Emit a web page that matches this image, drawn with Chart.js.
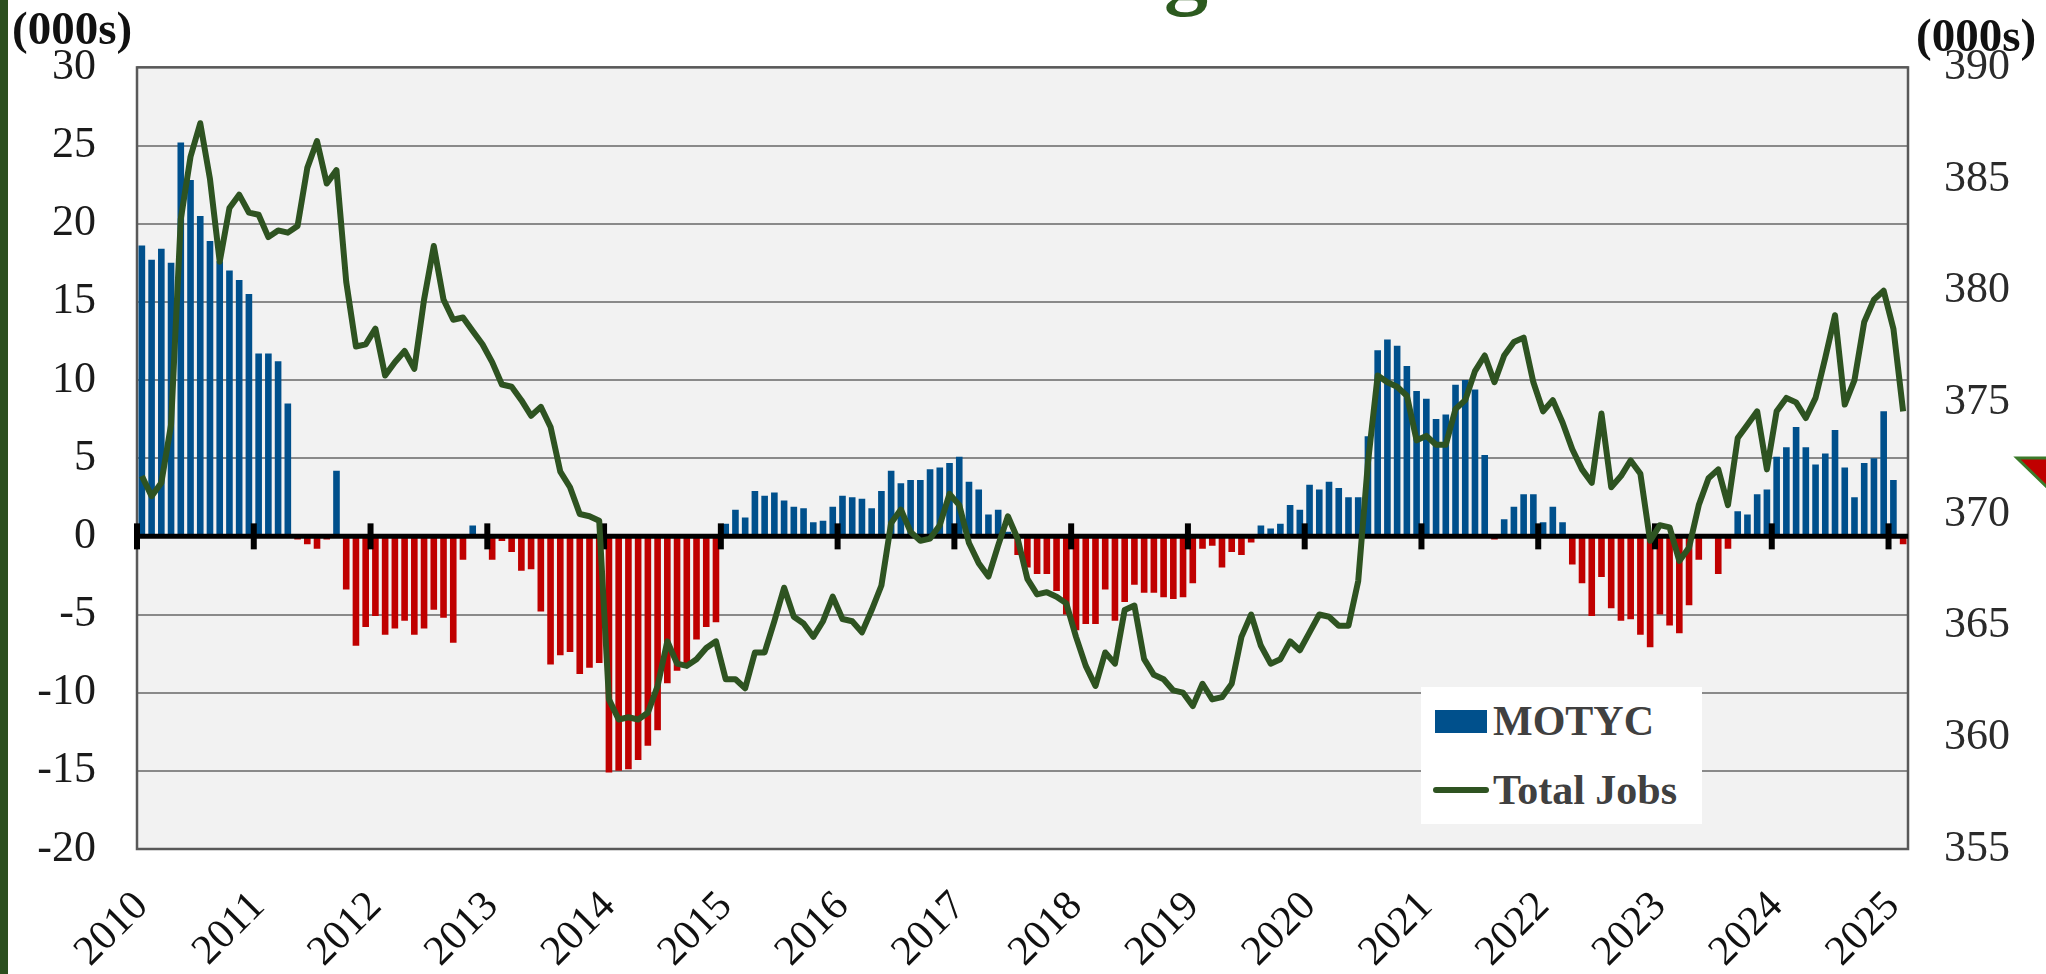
<!DOCTYPE html>
<html>
<head>
<meta charset="utf-8">
<script src="https://cdn.jsdelivr.net/npm/chart.js@4.4.1/dist/chart.umd.min.js"></script>
<style>
  body { margin: 0; background: #fff; }
  #wrap { position: relative; width: 2046px; height: 974px; overflow: hidden; }
  #edge { position: absolute; left: 0; top: 0; width: 8px; height: 974px; background: #2c4f1f; }
  .unit { position: absolute; font: bold 47px "Liberation Serif", serif; color: #111; line-height: 1; }
  #titleTail { position: absolute; left: 1164px; top: -75px; font: bold 88px "Liberation Serif", serif;
               line-height: 1; color: #2c5a1f; }
  #legend { position: absolute; left: 1421px; top: 687px; width: 281px; height: 137px; background: #fff; }
  .row { position: absolute; left: 0; height: 50px; display: flex; align-items: center;
         font: bold 42px "Liberation Serif", serif; color: #404040; }
  #corner { position: absolute; left: 2012px; top: 452px; }
</style>
</head>
<body>
<div id="wrap">
  <canvas id="myChart"></canvas>
  <div id="edge"></div>
  <div id="titleTail">g</div>
  <div class="unit" style="left:12px; top:5px;">(000s)</div>
  <div class="unit" style="left:1916px; top:12px;">(000s)</div>
  <div id="legend"></div>
  <svg id="corner" width="40" height="45"><polygon points="5,6 40,6 40,40" fill="#c00000" stroke="#3b7a2a" stroke-width="3"/></svg>
</div>
<script>
// years on the axis, one label per January
const years = [2010, 2011, 2012, 2013, 2014, 2015, 2016, 2017, 2018, 2019, 2020, 2021, 2022, 2023, 2024, 2025];
const monthNames = ['Jan','Feb','Mar','Apr','May','Jun','Jul','Aug','Sep','Oct','Nov','Dec'];

// MOTYC, monthly, Jan 2010 - Feb 2025 (000s)
const motyc = [
  18.6, 17.7, 18.4, 17.5, 25.2, 22.8, 20.5, 18.9, 17.6, 17.0, 16.4, 15.5,
  11.7, 11.7, 11.2, 8.5, -0.2, -0.5, -0.8, -0.2, 4.2, -3.4, -7.0, -5.8,
  -5.1, -6.3, -5.9, -5.4, -6.3, -5.9, -4.7, -5.2, -6.8, -1.5, 0.7, -0.1,
  -1.5, -0.3, -1.0, -2.2, -2.1, -4.8, -8.2, -7.6, -7.4, -8.8, -8.4, -8.1,
  -15.1, -15.0, -14.9, -14.3, -13.4, -12.4, -9.4, -8.6, -8.1, -6.6, -5.8, -5.5,
  0.8, 1.7, 1.2, 2.9, 2.6, 2.8, 2.3, 1.9, 1.8, 0.9, 1.0, 1.9,
  2.6, 2.5, 2.4, 1.8, 2.9, 4.2, 3.4, 3.6, 3.6, 4.3, 4.4, 4.7,
  5.1, 3.5, 3.0, 1.4, 1.7, 0.3, -1.2, -2.0, -2.4, -2.4, -3.5, -5.0,
  -6.0, -5.6, -5.6, -3.4, -5.4, -4.2, -3.1, -3.6, -3.6, -3.9, -4.0, -3.9,
  -3.0, -0.8, -0.6, -2.0, -1.0, -1.2, -0.4, 0.7, 0.5, 0.8, 2.0, 1.7,
  3.3, 3.0, 3.5, 3.1, 2.5, 2.5, 6.4, 11.9, 12.6, 12.2, 10.9, 9.3,
  8.8, 7.5, 7.8, 9.7, 10.0, 9.4, 5.2, -0.2, 1.1, 1.9, 2.7, 2.7,
  0.9, 1.9, 0.9, -1.8, -3.0, -5.1, -2.6, -4.6, -5.4, -5.3, -6.3, -7.1,
  -5.0, -5.7, -6.2, -4.4, -1.5, 0.1, -2.4, -0.8, 1.6, 1.4, 2.7, 3.0,
  5.1, 5.7, 7.0, 5.7, 4.6, 5.3, 6.8, 4.4, 2.5, 4.7, 5.0, 8.0,
  3.6, -0.5
];

// Total Jobs, monthly, same months (000s)
const totalJobs = [
  371.7, 370.8, 371.4, 374.0, 383.2, 386.0, 387.5, 385.0, 381.3, 383.7, 384.3, 383.5,
  383.4, 382.4, 382.7, 382.6, 382.9, 385.5, 386.7, 384.8, 385.4, 380.4, 377.5, 377.6,
  378.3, 376.2, 376.8, 377.3, 376.5, 379.6, 382.0, 379.6, 378.7, 378.8, 378.2, 377.6,
  376.8, 375.8, 375.7, 375.1, 374.4, 374.8, 373.9, 371.9, 371.2, 370.0, 369.9, 369.7,
  361.7, 360.8, 360.9, 360.8, 361.1, 362.3, 364.3, 363.3, 363.2, 363.5, 364.0, 364.3,
  362.6, 362.6, 362.2, 363.8, 363.8, 365.2, 366.7, 365.4, 365.1, 364.5, 365.2, 366.3,
  365.3, 365.2, 364.7, 365.7, 366.8, 369.6, 370.2, 369.2, 368.8, 368.9, 369.5, 370.9,
  370.4, 368.7, 367.8, 367.2, 368.6, 369.9, 368.9, 367.1, 366.4, 366.5, 366.3, 366.0,
  364.5, 363.2, 362.3, 363.8, 363.3, 365.7, 365.9, 363.5, 362.8, 362.6, 362.1, 362.0,
  361.4, 362.4, 361.7, 361.8, 362.4, 364.5, 365.5, 364.1, 363.3, 363.5, 364.3, 363.9,
  364.7, 365.5, 365.4, 365.0, 365.0, 367.0, 372.3, 376.2, 375.9, 375.7, 375.3, 373.3,
  373.5, 373.1, 373.1, 374.7, 375.1, 376.4, 377.1, 375.9, 377.1, 377.7, 377.9, 375.9,
  374.6, 375.1, 374.1, 372.9, 372.0, 371.4, 374.5, 371.2, 371.7, 372.4, 371.8, 368.8,
  369.5, 369.4, 367.9, 368.5, 370.4, 371.6, 372.0, 370.4, 373.4, 374.0, 374.6, 372.0,
  374.6, 375.2, 375.0, 374.3, 375.2, 377.0, 378.9, 374.9, 376.0, 378.6, 379.6, 380.0,
  378.3, 374.6
];

const months = [];
years.forEach(y => monthNames.forEach(m => months.push(m + ' ' + y)));
months.length = motyc.length;

const BLUE = '#00508c';
const RED = '#c00000';
const GREEN = '#2e5321';
const tickFont = { family: '"Liberation Serif", serif', size: 44 };

// chart area background, frame, zero line and year marks
const plotFrame = {
  id: 'plotFrame',
  beforeDraw(chart) {
    const { ctx, chartArea: a } = chart;
    ctx.save();
    ctx.fillStyle = '#f2f2f2';
    ctx.fillRect(a.left, a.top, a.width, a.height);
    ctx.restore();
  },
  beforeDatasetsDraw(chart) {
    const { ctx, chartArea: a } = chart;
    ctx.save();
    ctx.strokeStyle = '#595959';
    ctx.lineWidth = 2.5;
    ctx.strokeRect(a.left, a.top, a.width, a.height);
    ctx.restore();
  },
  afterDatasetDraw(chart, args) {
    if (args.meta.type !== 'bar') return;
    const { ctx, chartArea: a, scales } = chart;
    const y0 = scales.y.getPixelForValue(0);
    ctx.save();
    ctx.strokeStyle = '#000';
    ctx.lineWidth = 5;
    ctx.beginPath();
    ctx.moveTo(a.left, y0);
    ctx.lineTo(a.right, y0);
    ctx.stroke();
    ctx.lineWidth = 6;
    years.forEach((yr, k) => {
      const x = scales.x.getPixelForValue(k * 12 - 0.5);
      ctx.beginPath();
      ctx.moveTo(x, y0 - 13);
      ctx.lineTo(x, y0 + 13);
      ctx.stroke();
    });
    ctx.restore();
  }
};

const myChart = new Chart(document.getElementById('myChart'), {
  type: 'bar',
  data: {
    labels: months,
    datasets: [{
      label: 'MOTYC',
      data: motyc,
      yAxisID: 'y',
      order: 1,
      backgroundColor: motyc.map(v => v < 0 ? RED : BLUE),
      legendColor: BLUE,
      barPercentage: 0.68,
      categoryPercentage: 1
    }, {
      type: 'line',
      label: 'Total Jobs',
      data: totalJobs,
      yAxisID: 'y2',
      order: 0,
      borderColor: GREEN,
      backgroundColor: GREEN,
      borderWidth: 6,
      borderJoinStyle: 'round',
      pointRadius: 0,
      tension: 0
    }]
  },
  options: {
    responsive: true,
    maintainAspectRatio: false,
    animation: false,
    layout: { padding: { top: 67, left: 0, right: 0, bottom: 0 } },
    plugins: { legend: { display: false }, tooltip: { enabled: false } },
    scales: {
      x: {
        type: 'category',
        offset: true,
        grid: { display: false },
        border: { display: false },
        ticks: {
          autoSkip: false,
          maxRotation: 45,
          minRotation: 45,
          padding: 25,
          font: { family: '"Liberation Serif", serif', size: 42 },
          color: '#111',
          callback: (v, i) => i % 12 === 0 ? years[i / 12] : ''
        },
        afterFit: s => { s.height = 125; }
      },
      y: {
        position: 'left',
        min: -20,
        max: 30,
        grid: { color: '#8a8a8a', lineWidth: 2, drawTicks: false },
        border: { display: false },
        ticks: { stepSize: 5, padding: 41, font: tickFont, color: '#1a1a1a' },
        afterFit: s => { s.width = 137; }
      },
      y2: {
        position: 'right',
        min: 355,
        max: 390,
        grid: { drawOnChartArea: false, drawTicks: false },
        border: { display: false },
        ticks: { stepSize: 5, padding: 36, font: tickFont, color: '#2a2a2a' },
        afterFit: s => { s.width = 138; }
      }
    }
  },
  plugins: [plotFrame]
});

// legend box inside the plot, built from the datasets
const legend = document.getElementById('legend');
myChart.data.datasets.forEach((ds, i) => {
  const row = document.createElement('div');
  row.className = 'row';
  row.style.top = (i === 0 ? 9 : 78) + 'px';
  const sw = document.createElement('span');
  if (ds.type === 'line') {
    sw.style.cssText = 'display:inline-block;width:56px;height:6px;border-radius:3px;margin:0 4px 0 12px;background:' + ds.borderColor;
  } else {
    sw.style.cssText = 'display:inline-block;width:52px;height:23px;margin:0 6px 0 14px;background:' + ds.legendColor;
  }
  row.appendChild(sw);
  row.appendChild(document.createTextNode(ds.label));
  legend.appendChild(row);
});
</script>
</body>
</html>
